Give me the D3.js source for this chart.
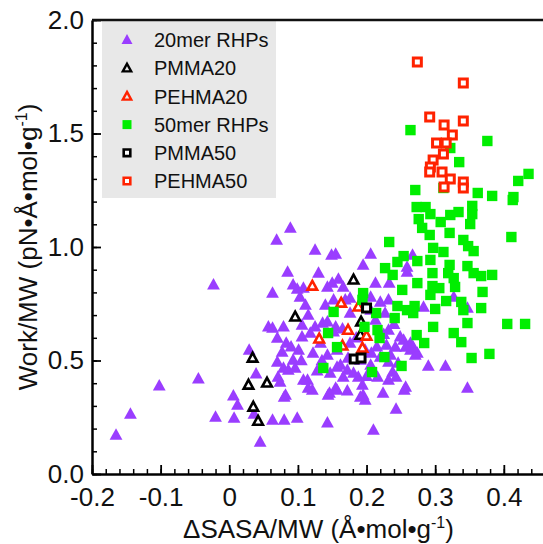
<!DOCTYPE html>
<html><head><meta charset="utf-8">
<script src="https://cdn.jsdelivr.net/npm/d3@7"></script>
<style>
body{margin:0;background:#fff;}
svg{display:block;font-family:"Liberation Sans",Arial,Helvetica,sans-serif;}
</style></head><body>
<svg id="c" width="543" height="544"></svg>
<script>
// ---------- data ----------
const rhp20 = [[-0.165,0.172],[-0.144,0.264],[-0.102,0.388],[-0.045,0.419],[-0.023,0.833],[-0.020,0.251],[0.006,0.344],[0.012,0.304],[0.007,0.247],[0.029,0.546],[0.039,0.441],[0.036,0.264],[0.045,0.141],[0.057,0.648],[0.063,0.238],[0.070,0.599],[0.079,0.648],[0.083,0.577],[0.077,0.537],[0.070,0.493],[0.093,0.502],[0.079,0.467],[0.071,0.427],[0.074,0.405],[0.096,0.467],[0.101,0.546],[0.082,0.348],[0.080,0.238],[0.099,0.247],[0.080,0.339],[0.069,1.031],[0.089,1.084],[0.085,0.890],[0.093,0.833],[0.099,0.815],[0.130,0.885],[0.125,0.987],[0.149,0.965],[0.155,0.969],[0.206,0.969],[0.195,0.921],[0.159,0.859],[0.143,0.824],[0.166,0.824],[0.213,0.841],[0.233,0.841],[0.259,0.890],[0.108,0.819],[0.150,0.841],[0.176,0.775],[0.152,0.767],[0.140,0.744],[0.206,0.780],[0.220,0.758],[0.232,0.767],[0.267,0.965],[0.259,0.912],[0.115,0.700],[0.136,0.665],[0.152,0.626],[0.106,0.604],[0.118,0.621],[0.122,0.533],[0.143,0.524],[0.157,0.546],[0.176,0.577],[0.173,0.511],[0.198,0.546],[0.206,0.480],[0.162,0.480],[0.147,0.445],[0.166,0.427],[0.114,0.414],[0.121,0.370],[0.144,0.348],[0.155,0.379],[0.172,0.366],[0.194,0.392],[0.195,0.348],[0.188,0.427],[0.216,0.427],[0.229,0.568],[0.235,0.524],[0.242,0.559],[0.249,0.604],[0.246,0.489],[0.257,0.383],[0.232,0.414],[0.264,0.546],[0.271,0.524],[0.213,0.678],[0.227,0.709],[0.232,0.634],[0.176,0.709],[0.206,0.722],[0.111,0.744],[0.169,0.767],[0.143,0.225],[0.210,0.194],[0.243,0.286],[0.347,0.379],[0.290,0.476],[0.315,0.476],[0.243,0.427],[0.191,0.339],[0.146,0.357],[0.115,0.379],[0.086,0.458],[0.108,0.414],[0.172,0.458],[0.181,0.445],[0.157,0.471],[0.191,0.502],[0.207,0.533],[0.220,0.515],[0.232,0.493],[0.254,0.590],[0.274,0.533],[0.268,0.559],[0.283,0.736],[0.347,0.731],[0.327,0.780],[0.264,0.577],[0.257,0.559],[0.198,0.326],[0.157,0.370],[0.063,0.797],[0.103,0.780],[0.106,0.656],[0.063,0.643],[0.125,0.648],[0.143,0.670],[0.133,0.577],[0.155,0.648],[0.238,0.449],[0.224,0.357],[0.128,0.455],[0.135,0.500],[0.185,0.600],[0.165,0.640],[0.225,0.615],[0.215,0.560],[0.090,0.560],[0.105,0.500],[0.200,0.430],[0.240,0.660],[0.255,0.370]];
const pmma20 = [[0.034,0.511],[0.028,0.392],[0.055,0.401],[0.035,0.295],[0.042,0.233],[0.096,0.692],[0.181,0.855],[0.192,0.670],[0.191,0.612]];
const pehma20 = [[0.121,0.828],[0.163,0.753],[0.188,0.736],[0.173,0.634],[0.131,0.595],[0.200,0.608],[0.194,0.555],[0.165,0.564]];
const rhp50 = [[0.264,1.515],[0.376,1.467],[0.322,1.436],[0.335,1.374],[0.271,1.251],[0.362,1.238],[0.383,1.225],[0.421,1.291],[0.436,1.322],[0.414,1.220],[0.413,1.207],[0.312,1.260],[0.354,1.181],[0.354,1.145],[0.351,1.101],[0.273,1.176],[0.286,1.176],[0.293,1.145],[0.276,1.123],[0.281,1.084],[0.292,1.053],[0.308,1.110],[0.322,1.141],[0.334,1.154],[0.321,1.062],[0.341,1.031],[0.348,1.004],[0.356,0.982],[0.411,1.044],[0.233,1.022],[0.297,0.996],[0.312,0.978],[0.254,0.960],[0.245,0.934],[0.274,0.938],[0.293,0.943],[0.321,0.921],[0.319,0.885],[0.347,0.916],[0.356,0.885],[0.367,0.872],[0.383,0.877],[0.296,0.885],[0.327,0.863],[0.329,0.824],[0.227,0.907],[0.238,0.877],[0.274,0.841],[0.252,0.811],[0.296,0.828],[0.306,0.819],[0.293,0.789],[0.316,0.762],[0.338,0.758],[0.369,0.802],[0.341,0.722],[0.367,0.731],[0.270,0.740],[0.259,0.722],[0.268,0.709],[0.300,0.727],[0.245,0.740],[0.195,0.797],[0.194,0.767],[0.214,0.709],[0.152,0.714],[0.241,0.687],[0.347,0.665],[0.405,0.661],[0.431,0.661],[0.297,0.648],[0.327,0.621],[0.338,0.581],[0.273,0.612],[0.284,0.577],[0.197,0.648],[0.216,0.634],[0.219,0.599],[0.144,0.621],[0.157,0.559],[0.226,0.515],[0.251,0.476],[0.208,0.449],[0.137,0.467],[0.353,0.511],[0.379,0.529]];
const pmma50 = [[0.200,0.731],[0.182,0.507],[0.192,0.511]];
const pehma50 = [[0.274,1.815],[0.341,1.722],[0.292,1.573],[0.341,1.555],[0.313,1.537],[0.325,1.493],[0.302,1.458],[0.316,1.458],[0.312,1.410],[0.297,1.383],[0.293,1.352],[0.292,1.330],[0.310,1.330],[0.322,1.300],[0.313,1.264],[0.341,1.286],[0.341,1.260]];
const xMajor = [-0.2,-0.1,0,0.1,0.2,0.3,0.4];
const xLabels = ["-0.2","-0.1","0","0.1","0.2","0.3","0.4"];
const yMajor = [0,0.5,1,1.5,2];
const yLabels = ["0.0","0.5","1.0","1.5","2.0"];
const legendNames = ["20mer RHPs","PMMA20","PEHMA20","50mer RHPs","PMMA50","PEHMA50"];

// ---------- setup ----------
const PURPLE="#9a3dff", GREEN="#00ee00", RED="#ff2200", BLACK="#000";
const svg = d3.select("#c");
const L=92, R=545, T=20, B=474;
const x = d3.scaleLinear().domain([-0.2,0.46]).range([L,R]);
const y = d3.scaleLinear().domain([0,2]).range([B,T]);

const triFilled = "M0,-6.8L6.4,4.7L-6.4,4.7Z";
const triOpen = "M0,-5.2L4.8,3.6L-4.8,3.6Z";
function drawSeries(data, kind){
  const g = svg.append("g");
  const sel = g.selectAll("path").data(data).join("path")
    .attr("transform", d=>`translate(${x(d[0])},${y(d[1])})`);
  if(kind==="rhp20") sel.attr("d",triFilled).attr("fill",PURPLE);
  if(kind==="pmma20") sel.attr("d",triOpen).attr("fill","#fff").attr("stroke",BLACK).attr("stroke-width",2.6);
  if(kind==="pehma20") sel.attr("d",triOpen).attr("fill","#fff").attr("stroke",RED).attr("stroke-width",2.6);
  if(kind==="rhp50") sel.attr("d","M-5.2,-5.2H5.2V5.2H-5.2Z").attr("fill",GREEN);
  if(kind==="pmma50") sel.attr("d","M-4,-4H4V4H-4Z").attr("fill","#fff").attr("stroke",BLACK).attr("stroke-width",3);
  if(kind==="pehma50") sel.attr("d","M-4,-4H4V4H-4Z").attr("fill","#fff").attr("stroke",RED).attr("stroke-width",3);
}

svg.append("rect").attr("x",102).attr("y",T+1).attr("width",174).attr("height",177).attr("fill","#e8e8e8");

drawSeries(rhp20,"rhp20");
drawSeries(pmma20,"pmma20");
drawSeries(pehma20,"pehma20");
drawSeries(rhp50,"rhp50");
drawSeries(pmma50,"pmma50");
drawSeries(pehma50,"pehma50");

const legKinds=["rhp20","pmma20","pehma20","rhp50","pmma50","pehma50"];
const lg = svg.append("g");
legendNames.forEach((n,i)=>{
  const cy = 40 + i*28.2;
  const k = legKinds[i];
  const m = lg.append("path").attr("transform",`translate(127,${cy})`);
  if(k==="rhp20") m.attr("d","M0,-6L5.5,4L-5.5,4Z").attr("fill",PURPLE);
  if(k==="pmma20") m.attr("d","M0,-4.5L4.2,3.2L-4.2,3.2Z").attr("fill","none").attr("stroke",BLACK).attr("stroke-width",2.4);
  if(k==="pehma20") m.attr("d","M0,-4.5L4.2,3.2L-4.2,3.2Z").attr("fill","none").attr("stroke",RED).attr("stroke-width",2.4);
  if(k==="rhp50") m.attr("d","M-4.5,-4.5H4.5V4.5H-4.5Z").attr("fill",GREEN);
  if(k==="pmma50") m.attr("d","M-3.3,-3.3H3.3V3.3H-3.3Z").attr("fill","#fff").attr("stroke",BLACK).attr("stroke-width",2.6);
  if(k==="pehma50") m.attr("d","M-3.3,-3.3H3.3V3.3H-3.3Z").attr("fill","#fff").attr("stroke",RED).attr("stroke-width",2.6);
  lg.append("text").attr("x",154).attr("y",cy).attr("dy","0.36em").attr("font-size",20).attr("fill","#111").text(n);
});

const xMinor = d3.range(-0.2,0.461,0.02).map(v=>+v.toFixed(2));
const yMinor = d3.range(0,2.001,0.1).map(v=>+v.toFixed(1));
svg.append("g").attr("transform",`translate(0,${B})`)
  .call(d3.axisBottom(x).tickValues(xMinor).tickSizeInner(-5).tickSizeOuter(0).tickFormat(""))
  .call(g=>{g.select(".domain").remove(); g.selectAll("line").attr("stroke-width",1.5);});
svg.append("g").attr("transform",`translate(${L},0)`)
  .call(d3.axisLeft(y).tickValues(yMinor).tickSizeInner(-5).tickSizeOuter(0).tickFormat(""))
  .call(g=>{g.select(".domain").remove(); g.selectAll("line").attr("stroke-width",1.5);});
const xa = svg.append("g").attr("transform",`translate(0,${B})`)
  .call(d3.axisBottom(x).tickValues(xMajor).tickSizeInner(-9).tickSizeOuter(0).tickPadding(14)
    .tickFormat((d,i)=>xLabels[i]));
xa.select(".domain").attr("stroke-width",2.5);
xa.selectAll("line").attr("stroke-width",1.8);
xa.selectAll("text").attr("font-size",26).attr("fill","#111").attr("font-family","'Liberation Sans',Arial,sans-serif");
const ya = svg.append("g").attr("transform",`translate(${L},0)`)
  .call(d3.axisLeft(y).tickValues(yMajor).tickSizeInner(-9).tickSizeOuter(0).tickPadding(8)
    .tickFormat((d,i)=>yLabels[i]));
ya.select(".domain").attr("stroke-width",2.5);
ya.selectAll("line").attr("stroke-width",1.8);
ya.selectAll("text").attr("font-size",26).attr("fill","#111").attr("font-family","'Liberation Sans',Arial,sans-serif");
svg.append("line").attr("x1",L).attr("x2",R).attr("y1",T).attr("y2",T).attr("stroke","#111").attr("stroke-width",2.5);

const xt = svg.append("text").attr("x",(L+R)/2).attr("y",538).attr("text-anchor","middle").attr("font-size",26).attr("fill","#111");
xt.append("tspan").text("ΔSASA/MW (Å•mol•g");
xt.append("tspan").attr("dy",-10).attr("font-size",16).text("-1");
xt.append("tspan").attr("dy",10).text(")");
const yt = svg.append("text").attr("transform",`translate(37,${(T+B)/2}) rotate(-90)`).attr("text-anchor","middle").attr("font-size",26).attr("fill","#111");
yt.append("tspan").text("Work/MW (pN•Å•mol•g");
yt.append("tspan").attr("dy",-10).attr("font-size",16).text("-1");
yt.append("tspan").attr("dy",10).text(")");
</script></body></html>
